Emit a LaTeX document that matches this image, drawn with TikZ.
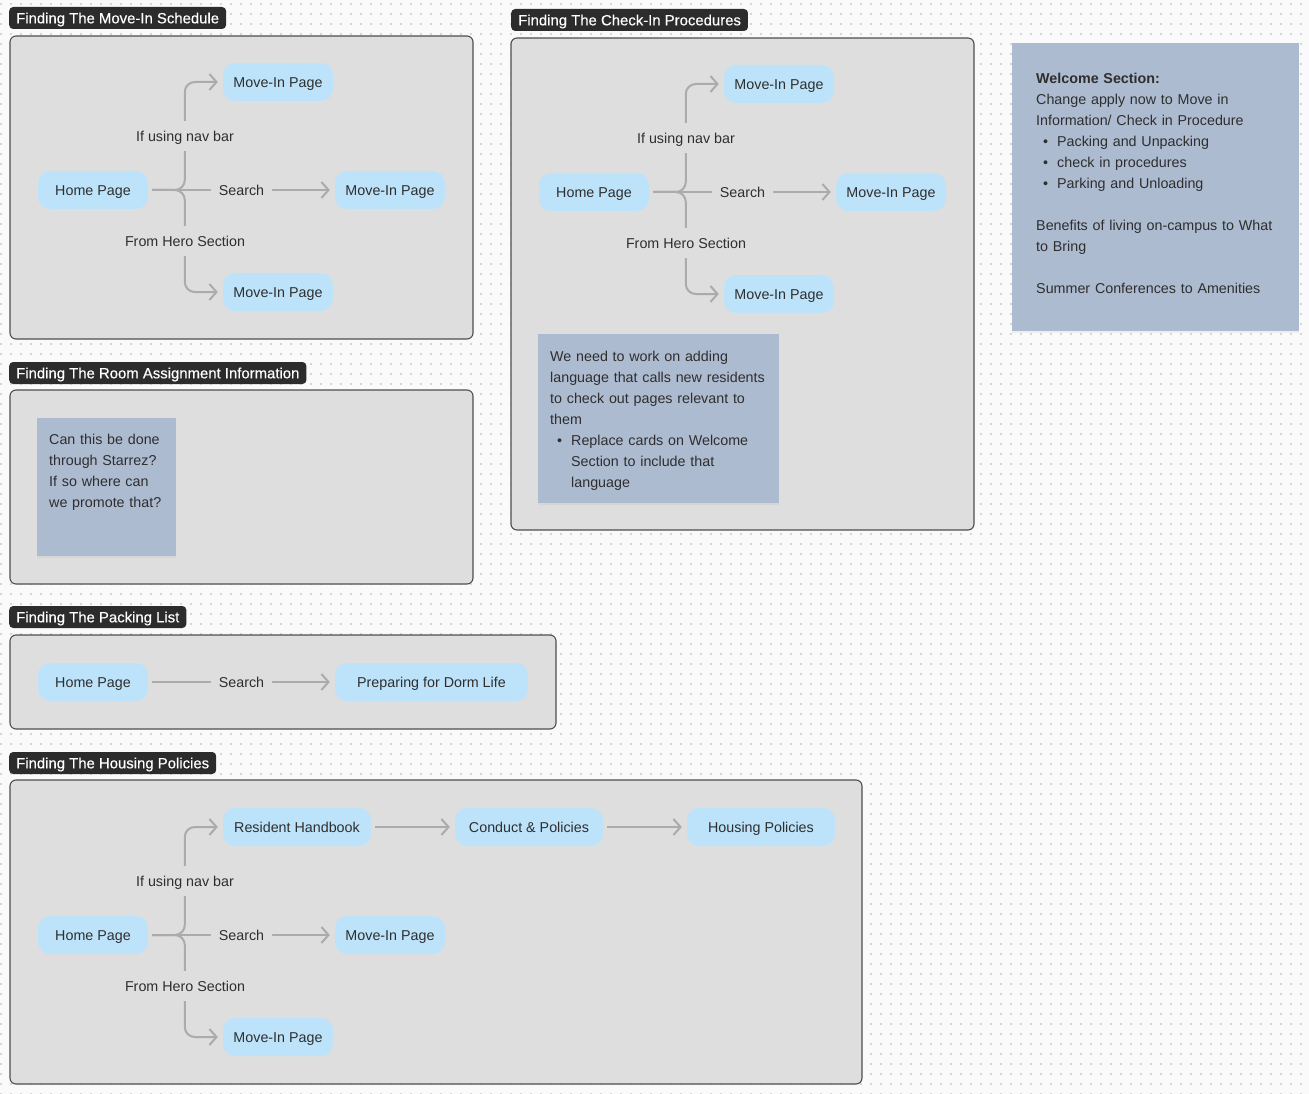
\documentclass[tikz,border=0pt]{standalone}
\usepackage{fontspec}
\setmainfont{Liberation Sans}
\newfontfamily\tagfam[FakeBold=0.4]{Liberation Sans}
\usetikzlibrary{arrows.meta,shadows}

\definecolor{bgc}{HTML}{FAFAFA}
\definecolor{dotc}{HTML}{D6D6D6}
\definecolor{pageblue}{HTML}{BDE3FB}
\definecolor{framegray}{HTML}{DEDEDE}
\definecolor{frameedge}{HTML}{4E4E4E}
\definecolor{tagdark}{HTML}{2C2C2C}
\definecolor{linegray}{HTML}{ABABAB}
\definecolor{stickyblue}{HTML}{ADBBD1}
\definecolor{ink}{HTML}{2E2E2E}

\newcommand\txtfont{\fontsize{14.3}{21}\selectfont}
\newcommand\tagfont{\tagfam\fontsize{14.9}{17}\selectfont}
\newcommand\bitem[1]{\makebox[21pt][l]{\hspace{7pt}\textbullet}#1}

\tikzset{
  pagebox/.style={fill=pageblue, rounded corners=12pt, minimum width=110pt,
    minimum height=38pt, font=\txtfont, text=ink, inner sep=0pt,
    text height=10.3pt, text depth=0pt},
  tagbox/.style={fill=tagdark, rounded corners=4pt, text=white, font=\tagfont,
    inner xsep=7pt, inner ysep=0pt, minimum height=22pt, anchor=west,
    text height=10.7pt, text depth=0pt},
  framebox/.style={fill=framegray, draw=frameedge, line width=1.1pt, rounded corners=6pt},
  conn/.style={draw=linegray, line width=2pt, rounded corners=10pt, shorten <=4pt},
  arr/.style={conn, -{Straight Barb[length=7pt,width=16pt]}, shorten >=5pt},
  lbl/.style={fill=framegray, font=\txtfont, text=ink, inner xsep=8pt, inner ysep=10pt,
    text height=10.3pt, text depth=0pt},
  sticky/.style={fill=stickyblue, anchor=north west, inner sep=0pt,
    drop shadow={shadow xshift=0pt, shadow yshift=-2pt, opacity=0.09}},
  notetext/.style={font=\txtfont, text=ink, align=left, anchor=north west, inner sep=0pt}
}

\begin{document}
\begin{tikzpicture}[x=1pt, y=-1pt]
% canvas and dot grid
\useasboundingbox (0,0) rectangle (1309,1094);
\fill[bgc] (0,0) rectangle (1309,1094);
\foreach \r in {4,14,...,1094}
  \draw[dotc, line width=1.2pt, dash pattern=on 1.2pt off 8.8pt] (0.4,\r) -- (1309,\r);

% ---------- Finding The Move-In Schedule ----------
\draw[framebox] (10,36) rectangle (473,339);
\node[tagbox] (tag1) at (9,18) {Finding The Move-In Schedule};
\node[pagebox] (s1home) at (93,190) {Home Page};
\node[pagebox] (s1top) at (278,82) {Move-In Page};
\node[pagebox] (s1mid) at (390,190) {Move-In Page};
\node[pagebox] (s1bot) at (278,292) {Move-In Page};
\draw[arr] (s1home.east) -| ([xshift=-38pt]s1top.west) -- (s1top.west);
\draw[arr] (s1home.east) -| ([xshift=-38pt]s1bot.west) -- (s1bot.west);
\draw[arr] (s1home.east) -- node[lbl] (s1search) {Search} (s1mid.west);
\node[lbl] (s1nav) at (185,136) {If using nav bar};
\node[lbl] (s1hero) at (185,241) {From Hero Section};

% ---------- Finding The Check-In Procedures ----------
\draw[framebox] (511,38) rectangle (974,530);
\node[tagbox] (tag2) at (511,20) {Finding The Check-In Procedures};
\node[pagebox] (s2home) at (594,192) {Home Page};
\node[pagebox] (s2top) at (779,84) {Move-In Page};
\node[pagebox] (s2mid) at (891,192) {Move-In Page};
\node[pagebox] (s2bot) at (779,294) {Move-In Page};
\draw[arr] (s2home.east) -| ([xshift=-38pt]s2top.west) -- (s2top.west);
\draw[arr] (s2home.east) -| ([xshift=-38pt]s2bot.west) -- (s2bot.west);
\draw[arr] (s2home.east) -- node[lbl] (s2search) {Search} (s2mid.west);
\node[lbl] (s2nav) at (686,138) {If using nav bar};
\node[lbl] (s2hero) at (686,243) {From Hero Section};
\node[sticky, minimum width=241pt, minimum height=169pt] (s2card) at (538,334) {};
\node[notetext, text width=225pt] (s2note) at (550,346.3) {\strut We need to work on adding\\
language that calls new residents\\
to check out pages relevant to\\
them\\
\bitem{Replace cards on Welcome}\\
\hspace*{21pt}Section to include that\\
\hspace*{21pt}language};

% ---------- Finding The Room Assignment Information ----------
\draw[framebox] (10,390) rectangle (473,584);
\node[tagbox] (tag3) at (9,373) {Finding The Room Assignment Information};
\node[sticky, minimum width=139pt, minimum height=138pt] (s3card) at (37,418) {};
\node[notetext, text width=125pt] (s3note) at (49,429.3) {\strut Can this be done\\
through Starrez?\\
If so where can\\
we promote that?};

% ---------- Finding The Packing List ----------
\draw[framebox] (10,635) rectangle (556,729);
\node[tagbox] (tag4) at (9,617) {Finding The Packing List};
\node[pagebox] (s4home) at (93,682) {Home Page};
\node[pagebox, minimum width=193pt] (s4prep) at (431.5,682) {Preparing for Dorm Life};
\draw[arr] (s4home.east) -- node[lbl] (s4search) {Search} (s4prep.west);

% ---------- Finding The Housing Policies ----------
\draw[framebox] (10,780) rectangle (862,1084);
\node[tagbox] (tag5) at (9,763) {Finding The Housing Policies};
\node[pagebox] (s5home) at (93,935) {Home Page};
\node[pagebox, minimum width=148pt] (s5hand) at (297,827) {Resident Handbook};
\node[pagebox, minimum width=148pt] (s5cond) at (529,827) {Conduct \& Policies};
\node[pagebox, minimum width=148pt] (s5hous) at (761,827) {Housing Policies};
\node[pagebox] (s5mid) at (390,935) {Move-In Page};
\node[pagebox] (s5bot) at (278,1037) {Move-In Page};
\draw[arr] (s5home.east) -| ([xshift=-38pt]s5hand.west) -- (s5hand.west);
\draw[arr] (s5home.east) -| ([xshift=-38pt]s5bot.west) -- (s5bot.west);
\draw[arr] (s5home.east) -- node[lbl] (s5search) {Search} (s5mid.west);
\draw[arr] (s5hand.east) -- (s5cond.west);
\draw[arr] (s5cond.east) -- (s5hous.west);
\node[lbl] (s5nav) at (185,881) {If using nav bar};
\node[lbl] (s5hero) at (185,986) {From Hero Section};

% ---------- Welcome section note ----------
\node[sticky, minimum width=287pt, minimum height=288pt] (wcard) at (1012,43) {};
\node[notetext, text width=262pt] (wnote) at (1036,68.3) {\strut\textbf{Welcome Section:}\\
Change apply now to Move in\\
Information/ Check in Procedure\\
\bitem{Packing and Unpacking}\\
\bitem{check in procedures}\\
\bitem{Parking and Unloading}\\[21pt]
Benefits of living on-campus to What\\
to Bring\\[21pt]
Summer Conferences to Amenities};
\end{tikzpicture}
\end{document}
